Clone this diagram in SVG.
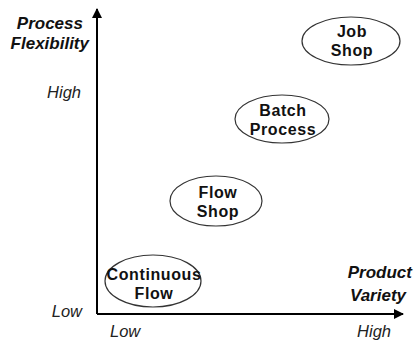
<svg xmlns="http://www.w3.org/2000/svg" width="414" height="342" viewBox="0 0 414 342">
  <style>
    .node ellipse { fill: #ffffff; stroke: #333333; stroke-width: 1.2; }
    .node text { font-family: "Liberation Sans", Arial, sans-serif; font-size: 16px; letter-spacing: 0.6px; font-weight: bold; fill: #111111; text-anchor: middle; }
    .axis-title { font-family: "Liberation Sans", Arial, sans-serif; font-size: 17px; font-weight: bold; font-style: italic; fill: #111111; }
    .tick { font-family: "Liberation Sans", Arial, sans-serif; font-size: 16.5px; font-style: italic; fill: #222222; }
    .axis { stroke: #000000; stroke-width: 2; fill: none; }
  </style>
  <defs>
    <marker id="arrow" viewBox="0 0 10 10" refX="9" refY="5" markerWidth="5" markerHeight="5" orient="auto" markerUnits="strokeWidth">
      <path d="M0,0 L10,5 L0,10 z" fill="#000000"/>
    </marker>
  </defs>
  <rect width="414" height="342" fill="#ffffff"/>

  <g id="connectors">
    <line class="axis" x1="97" y1="314" x2="97" y2="9" marker-end="url(#arrow)"/>
    <line class="axis" x1="97" y1="314" x2="403" y2="314" marker-end="url(#arrow)"/>
  </g>

  <g id="y-axis-labels">
    <text class="axis-title" x="83" y="29" text-anchor="end">Process</text>
    <text class="axis-title" x="89" y="49" text-anchor="end">Flexibility</text>
    <text class="tick" x="81" y="98" text-anchor="end">High</text>
    <text class="tick" x="82" y="317" text-anchor="end">Low</text>
  </g>

  <g id="x-axis-labels">
    <text class="axis-title" x="412" y="278" text-anchor="end">Product</text>
    <text class="axis-title" x="406" y="301" text-anchor="end">Variety</text>
    <text class="tick" x="110" y="337">Low</text>
    <text class="tick" x="391" y="337" text-anchor="end">High</text>
  </g>

  <g id="job-shop" class="node">
    <ellipse cx="351" cy="41" rx="49" ry="24"/>
    <text x="352" y="37">Job</text>
    <text x="352" y="56">Shop</text>
  </g>

  <g id="batch-process" class="node">
    <ellipse cx="282" cy="119" rx="47" ry="24"/>
    <text x="283" y="116">Batch</text>
    <text x="283" y="135">Process</text>
  </g>

  <g id="flow-shop" class="node">
    <ellipse cx="216" cy="201" rx="46" ry="25"/>
    <text x="218" y="198">Flow</text>
    <text x="218" y="217">Shop</text>
  </g>

  <g id="continuous-flow" class="node">
    <ellipse cx="153" cy="281" rx="48" ry="26"/>
    <text x="154" y="280">Continuous</text>
    <text x="154" y="299">Flow</text>
  </g>
</svg>
